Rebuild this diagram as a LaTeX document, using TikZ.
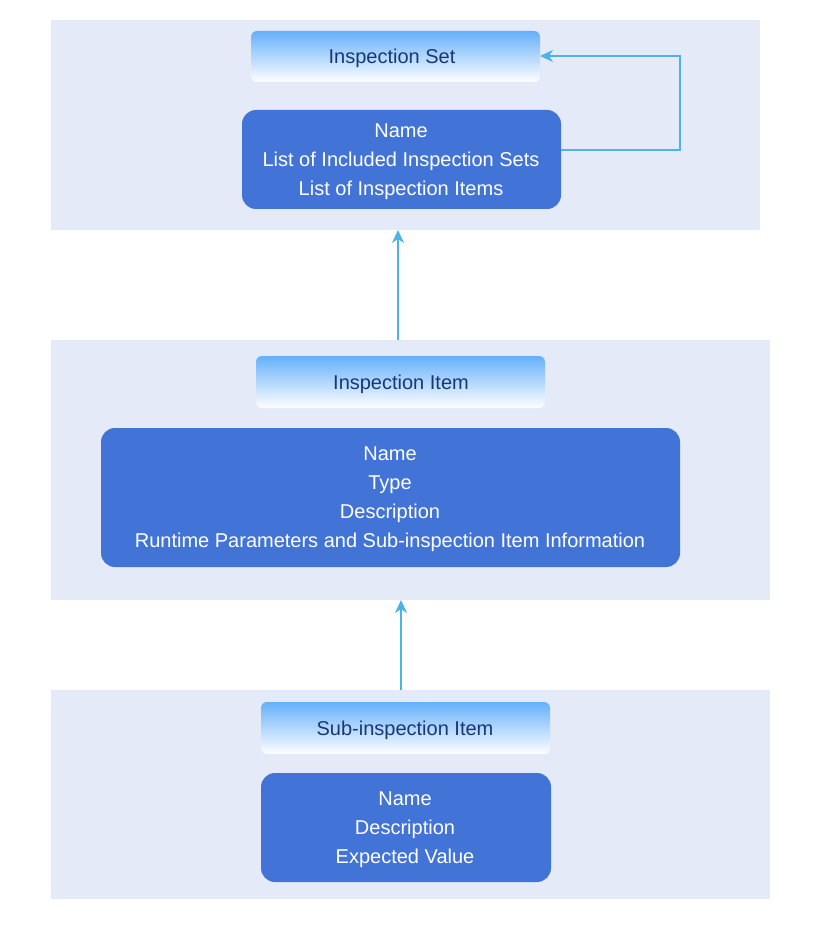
\documentclass[tikz,border=0pt]{standalone}
\usepackage{fontspec}
\setmainfont{Liberation Sans}
\usetikzlibrary{arrows.meta}
\definecolor{panelbg}{RGB}{228,234,248}
\definecolor{bodyblue}{RGB}{66,115,214}
\definecolor{headtop}{RGB}{100,176,250}
\definecolor{headtext}{RGB}{24,54,120}
\definecolor{arrowc}{RGB}{75,179,232}
\tikzset{
  panel/.style={fill=panelbg, draw=none},
  headbox/.style={rounded corners=6pt, top color=headtop, bottom color=white, draw=none},
  bodybox/.style={rounded corners=14pt, fill=bodyblue, draw=none},
  headtxt/.style={text=headtext, font=\fontsize{20}{24}\selectfont},
  bodytxt/.style={text=white, align=center, font=\fontsize{20}{29}\selectfont},
  conn/.style={draw=arrowc, line width=1.8pt, -{Stealth[length=13pt,width=12pt,inset=4pt]}}
}
\begin{document}
\begin{tikzpicture}[x=1pt,y=-1pt]
\useasboundingbox (0,0) rectangle (820,941);
\fill[white] (0,0) rectangle (820,941);
% panels
\path[panel] (51,20) rectangle (760,230);
\path[panel] (51,340) rectangle (770,600);
\path[panel] (51,690) rectangle (770,899);
\coordinate (p1b) at (398,230);
\coordinate (p2t) at (398,340);
\coordinate (p2b) at (401,600);
\coordinate (p3t) at (401,690);
% headers
\path[headbox] (251,31) rectangle (540,82);
\node[headtxt] (h1) at (392,58) {Inspection Set};
\coordinate (h1r) at (540,56);
\path[headbox] (256,356) rectangle (545,408);
\node[headtxt] (h2) at (401,384) {Inspection Item};
\path[headbox] (261,702) rectangle (550,754);
\node[headtxt] (h3) at (405,730) {Sub-inspection Item};
% bodies
\path[bodybox] (242,110) rectangle (561,209);
\node[bodytxt] (b1) at (401,161.5) {Name\\List of Included Inspection Sets\\List of Inspection Items};
\coordinate (b1r) at (561,150);
\path[bodybox] (101,428) rectangle (680,567);
\node[bodytxt] (b2) at (390,499.5) {Name\\Type\\Description\\Runtime Parameters and Sub-inspection Item Information};
\path[bodybox] (261,773) rectangle (551,882);
\node[bodytxt] (b3) at (405,829.5) {Name\\Description\\Expected Value};
% connectors
\draw[conn] (p2t) -- (p1b);
\draw[conn] (p3t) -- (p2b);
\draw[conn] (b1r) -- (680,150) -- (680,56) -- (h1r);
\end{tikzpicture}
\end{document}
